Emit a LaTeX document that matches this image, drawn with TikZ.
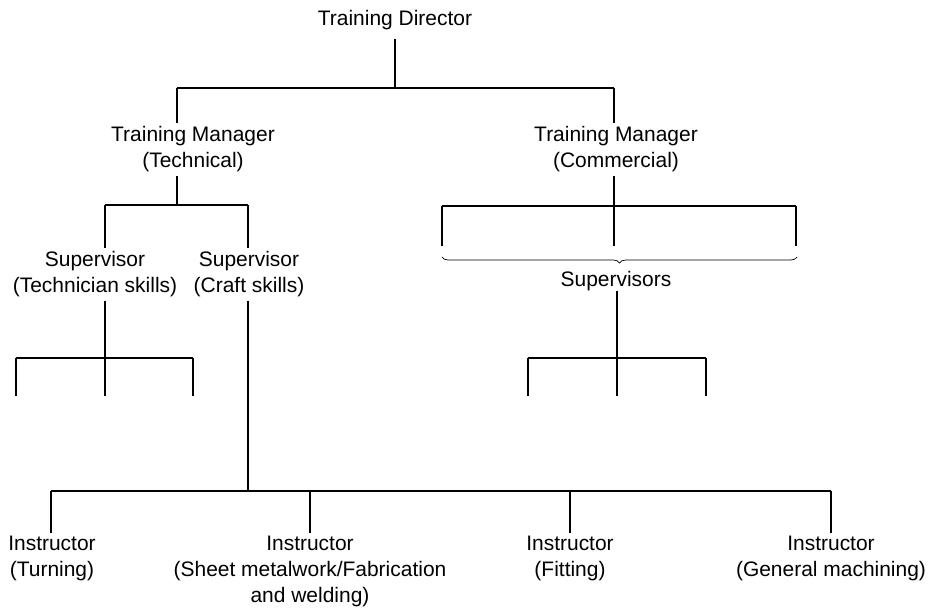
\documentclass[tikz,border=0pt]{standalone}
\usepackage{fontspec}
\setmainfont{Liberation Sans}
\usetikzlibrary{decorations.pathreplacing}

\begin{document}
\begin{tikzpicture}[x=0.03cm, y=-0.03cm, line width=0.9pt,
		post/.style={align=center, anchor=base, inner sep=0.1cm,
				font=\fontsize{17.9}{21.8}\selectfont}]
			\useasboundingbox (0,0) rectangle (937,608);
			% posts (base = baseline of the last line)
			\node[post, outer sep=0.2cm] (dir) at (395,25) {Training Director};
			\node[post] (mtech) at (193,167.5) {Training Manager\\(Technical)};
			\node[post] (mcom) at (616,167.5) {Training Manager\\(Commercial)};
			\node[post] (stech) at (95,292.5) {Supervisor\\(Technician skills)};
			\node[post] (scraft) at (249,292.5) {Supervisor\\(Craft skills)};
			\node[post, inner sep=0pt] (sup) at (616,286) {Supervisors};
			\node[post] (iturn) at (52,576.5) {Instructor\\(Turning)};
			\node[post] (isheet) at (310,602) {Instructor\\(Sheet metalwork/Fabrication\\and welding)};
			\node[post] (ifit) at (570,576.5) {Instructor\\(Fitting)};
			\node[post] (igen) at (831,576.5) {Instructor\\(General machining)};
			% director to managers
			\coordinate (topbar) at (395,88);
			\coordinate (techtop) at (177,88);
			\coordinate (comtop) at (614,88);
			\draw (dir) -- (topbar);
			\draw (techtop) -- (comtop);
			\draw (techtop) -- (mtech.north -| techtop);
			\draw (comtop) -- (mcom.north -| comtop);
			% technical side
			\coordinate (techbar) at (177,205);
			\coordinate (stechtop) at (105,205);
			\coordinate (scrafttop) at (248,205);
			\draw (mtech.south -| techbar) -- (techbar);
			\draw (stechtop) -- (scrafttop);
			\draw (stechtop) -- (stech.north -| stechtop);
			\draw (scrafttop) -- (scraft.north -| scrafttop);
			\coordinate (tsbar) at (105,358);
			\draw (stech.south -| tsbar) -- (tsbar);
			\draw (16,358) -- (193,358);
			\foreach \x in {16, 105, 193} {
					\draw (\x,358) -- (\x,396);
				}
			% commercial side
			\coordinate (combar) at (614,206);
			\draw (mcom.south -| combar) -- (combar);
			\draw (442,206) -- (796,206);
			\foreach \x in {442, 614, 796} {
					\draw (\x,206) -- (\x,246);
				}
			\draw[decorate, decoration={brace, mirror, amplitude=0.18cm}, line width=0.6pt]
			(442,257) -- (797,257);
			\coordinate (supbar) at (617,358);
			\draw (sup.south -| supbar) -- (supbar);
			\draw (528,358) -- (706,358);
			\foreach \x in {528, 617, 706} {
					\draw (\x,358) -- (\x,396);
				}
			% instructors
			\coordinate (craftbar) at (248,491);
			\coordinate (jturn) at (51,491);
			\coordinate (jsheet) at (310,491);
			\coordinate (jfit) at (570,491);
			\coordinate (jgen) at (831,491);
			\draw (scraft.south -| craftbar) -- (craftbar);
			\draw (jturn) -- (jgen);
			\foreach \n in {turn, sheet, fit, gen} {
					\draw (j\n) -- (i\n.north -| j\n);
				}
		\end{tikzpicture}
\end{document}
